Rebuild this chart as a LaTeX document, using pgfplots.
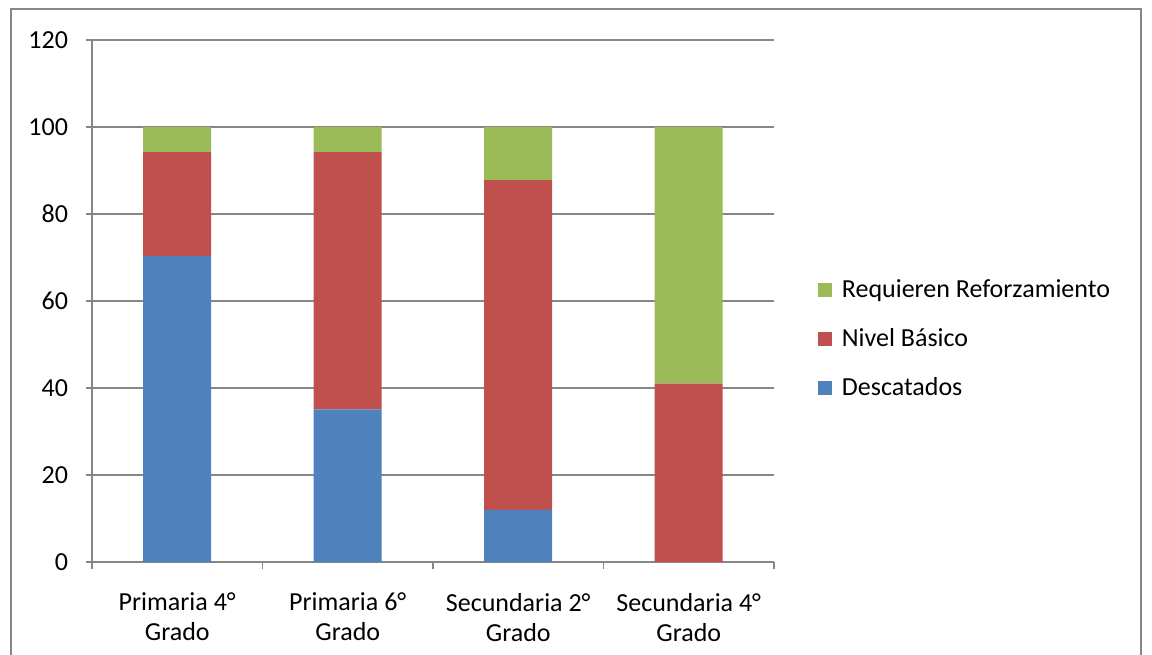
\documentclass[border=0pt]{standalone}
\usepackage{fontspec}
\setmainfont{Carlito}
\usepackage{pgfplots}
\pgfplotsset{compat=1.18}
\definecolor{cblue}{HTML}{4F81BD}
\definecolor{cred}{HTML}{C0504D}
\definecolor{cgreen}{HTML}{9BBB59}
\definecolor{cgrid}{HTML}{868686}
\begin{document}
\begin{tikzpicture}
\useasboundingbox (-46pt,-46pt) rectangle (530pt,281pt);
\draw[cgrid, line width=0.8pt] (-40.5pt,-50pt) -- (-40.5pt,276.5pt) -- (524.5pt,276.5pt) -- (524.5pt,-50pt);
\begin{axis}[
  at={(0pt,0pt)}, anchor=south west,
  scale only axis, width=341pt, height=261pt,
  ybar stacked, bar width=34pt,
  xmin=-0.5, xmax=3.5, ymin=0, ymax=120,
  ytick={0,20,...,120},
  xtick={0,1,2,3},
  xticklabels={{Primaria 4°\\Grado},{Primaria 6°\\Grado},{Secundaria 2°\\Grado},{Secundaria 4°\\Grado}},
  xticklabel style={align=center, font=\fontsize{13}{15}\selectfont},
  yticklabel style={font=\fontsize{13}{15}\selectfont},
  minor xtick={-0.5,0.5,1.5,2.5,3.5},
  major x tick style={draw=none},
  tick align=outside,
  major tick length=3pt, minor tick length=3.5pt,
  axis x line*=bottom, axis y line*=left,
  axis line style={cgrid, line width=0.8pt, -},
  tick style={cgrid, line width=0.8pt},
  ymajorgrids, grid style={cgrid, line width=0.8pt},
  /pgf/number format/assume math mode=true,
  xticklabel shift=9pt,
  yticklabel shift=5.5pt,
  reverse legend,
  legend style={at={(rel axis cs:1.055,0.427)}, anchor=west, draw=none, fill=none,
    font=\fontsize{13}{15}\selectfont, row sep=10pt,
    /tikz/every odd column/.append style={column sep=3pt}},
  legend cell align=left,
  legend image code/.code={\fill[#1] (0pt,-3.5pt) rectangle (7pt,3.5pt);},
]
\addplot[fill=cblue, draw=none] coordinates {(0,70.4) (1,35.1) (2,12.0) (3,0)};
\addplot[fill=cred, draw=none] coordinates {(0,23.8) (1,59.1) (2,75.8) (3,41.0)};
\addplot[fill=cgreen, draw=none] coordinates {(0,5.8) (1,5.8) (2,12.2) (3,59.0)};
\legend{Descatados, Nivel Básico, Requieren Reforzamiento}
\end{axis}
\end{tikzpicture}
\end{document}
